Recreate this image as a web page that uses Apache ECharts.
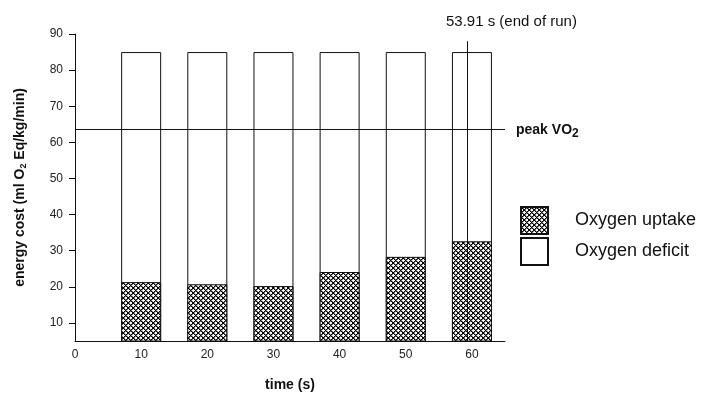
<!DOCTYPE html>
<html>
<head>
    <meta charset="UTF-8">
    <title>energy cost</title>
    <script src="https://cdn.jsdelivr.net/npm/echarts@6/dist/echarts.min.js"></script>
    <style>
        html, body { margin: 0; padding: 0; background: #fff; }
        #main { width: 711px; height: 397px; }
    </style>
</head>
<body>
    <div id="main"></div>
    <script>
        // values
        var times = [10, 20, 30, 40, 50, 60];
        var uptake = [21.3, 20.7, 20.2, 24.1, 28.3, 32.6];
        var totalCost = [85, 85, 85, 85, 85, 85];   // top of each bar (uptake + deficit)
        var yTicks = [10, 20, 30, 40, 50, 60, 70, 80, 90];
        var xTicks = [0, 10, 20, 30, 40, 50, 60];
        var peakVO2 = 63.5;
        var endOfRun = 59.3;   // where the line is drawn
        var endLineTop = 88;

        // cross-hatch fill, 5px tile, pixel by pixel
        function hatch() {
            var n = 5;
            var c = document.createElement('canvas');
            c.width = n; c.height = n;
            var ctx = c.getContext('2d');
            ctx.fillStyle = '#fff';
            ctx.fillRect(0, 0, n, n);
            for (var x = 0; x < n; x++) {
                for (var y = 0; y < n; y++) {
                    var a = (x + y) % n, b = (x - y + n) % n;
                    if (a === 0 || b === 0) {
                        ctx.fillStyle = '#000';
                        ctx.fillRect(x, y, 1, 1);
                    } else if (a === 1 || b === 1) {
                        ctx.fillStyle = '#777';
                        ctx.fillRect(x, y, 1, 1);
                    }
                }
            }
            return { image: c, repeat: 'repeat' };
        }

        var myChart = echarts.init(document.getElementById('main'));
        var font = 'Liberation Sans, Arial, sans-serif';

        var option = {
            animation: false,
            textStyle: { fontFamily: font },
            title: {
                text: '53.91 s (end of run)',
                left: 446, top: 14, padding: 0,
                textStyle: { fontSize: 15, fontWeight: 'normal', color: '#111', fontFamily: font }
            },
            legend: {
                orient: 'vertical',
                left: 520, top: 206,
                itemWidth: 27, itemHeight: 27, itemGap: 2,
                padding: 0,
                textStyle: { fontSize: 18, color: '#111', padding: [0, 0, 0, 22] },
                data: [
                    { name: 'Oxygen uptake', icon: 'rect' },
                    { name: 'Oxygen deficit', icon: 'rect' }
                ]
            },
            grid: { left: 75, right: 206, top: 34, bottom: 54, containLabel: false },
            xAxis: {
                type: 'value',
                min: 0, max: 65,
                name: 'time (s)',
                nameLocation: 'middle',
                nameGap: 37,
                nameTextStyle: { fontSize: 14, fontWeight: 'bold', color: '#111' },
                splitLine: { show: false },
                axisLine: { lineStyle: { color: '#111', width: 1 } },
                axisTick: { show: false },
                axisLabel: { customValues: xTicks, fontSize: 12, color: '#222', margin: 8 }
            },
            yAxis: {
                type: 'value',
                min: 5, max: 90,
                name: 'energy cost (ml O{sub|2} Eq/kg/min)',
                nameLocation: 'middle',
                nameGap: 47,
                nameTextStyle: {
                    fontSize: 14, fontWeight: 'bold', color: '#111',
                    rich: { sub: { fontSize: 9, fontWeight: 'bold', color: '#111', padding: [7, 0, 0, 0] } }
                },
                splitLine: { show: false },
                axisLine: { show: true, lineStyle: { color: '#111', width: 1 } },
                axisTick: { show: true, customValues: yTicks, length: 6, lineStyle: { color: '#111' } },
                axisLabel: { customValues: yTicks, fontSize: 12, color: '#222', margin: 12 }
            },
            series: [
                {
                    name: 'Oxygen deficit',
                    type: 'bar',
                    barWidth: 40,
                    barGap: '-100%',
                    z: 2,
                    data: times.map(function (t, i) { return [t, totalCost[i]]; }),
                    itemStyle: { color: '#fff', borderColor: '#111', borderWidth: 1 },
                    markLine: {
                        silent: true,
                        symbol: 'none',
                        z: 5,
                        lineStyle: { color: '#111', width: 1, type: 'solid' },
                        label: {
                            show: true,
                            position: 'end',
                            distance: 11,
                            formatter: 'peak VO{sub|2}',
                            fontSize: 14, fontWeight: 'bold', color: '#111',
                            rich: { sub: { fontSize: 12, fontWeight: 'bold', color: '#111', padding: [8, 0, 0, 0] } }
                        },
                        data: [{ yAxis: peakVO2 }]
                    }
                },
                {
                    name: 'Oxygen uptake',
                    type: 'bar',
                    barWidth: 40,
                    barGap: '-100%',
                    z: 3,
                    data: times.map(function (t, i) { return [t, uptake[i]]; }),
                    itemStyle: { color: hatch(), borderColor: '#111', borderWidth: 1 },
                    markLine: {
                        silent: true,
                        symbol: 'none',
                        z: 5,
                        lineStyle: { color: '#111', width: 1, type: 'solid' },
                        label: { show: false },
                        data: [
                            [{ coord: [endOfRun, 5] }, { coord: [endOfRun, endLineTop] }]
                        ]
                    }
                }
            ]
        };

        myChart.setOption(option);
    </script>
</body>
</html>
